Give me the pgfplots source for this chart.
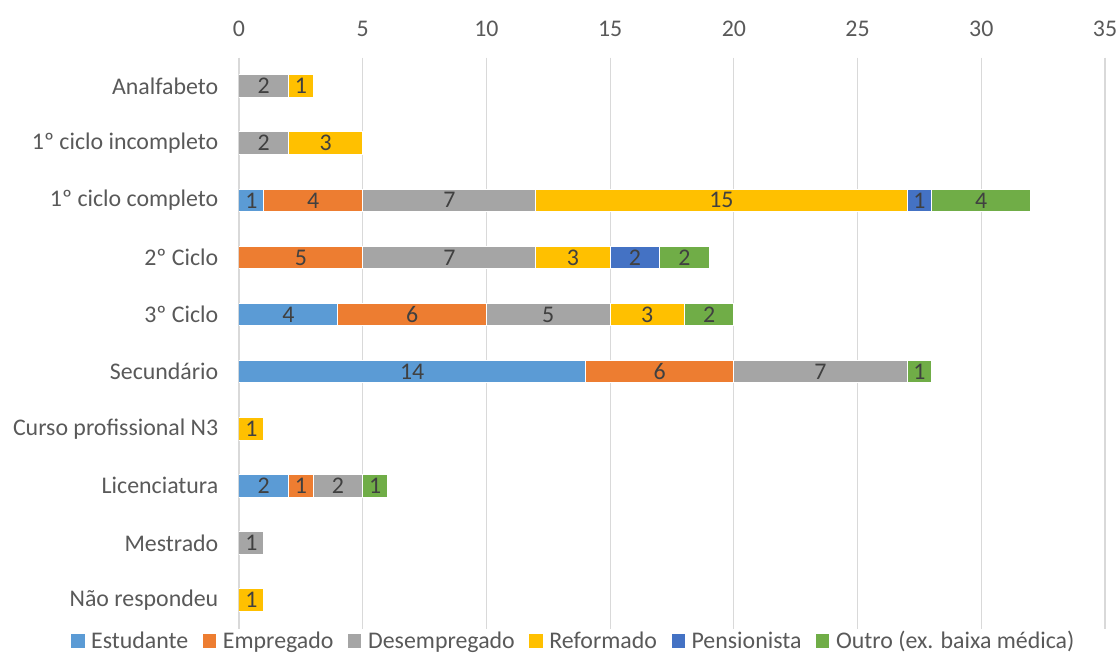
\documentclass[border=0pt]{standalone}
\usepackage{pgfplots}
\pgfplotsset{compat=1.18}
\usepackage{fontspec}
\setmainfont{Carlito}
\definecolor{cEst}{HTML}{5B9BD5}
\definecolor{cEmp}{HTML}{ED7D31}
\definecolor{cDes}{HTML}{A5A5A5}
\definecolor{cRef}{HTML}{FFC000}
\definecolor{cPen}{HTML}{4472C4}
\definecolor{cOut}{HTML}{70AD47}
\definecolor{gridc}{HTML}{D9D9D9}
\definecolor{labc}{HTML}{595959}
\definecolor{datc}{HTML}{404040}
\newcommand{\cfont}{\fontsize{17.9}{21}\selectfont}
\begin{document}
\begin{tikzpicture}[font=\cfont]
\begin{axis}[
 xbar stacked,
 scale only axis, width=649.5pt, height=428.25pt,
 at={(0,0)}, anchor=south west,
 xmin=0, xmax=35, ymin=-0.5, ymax=9.5, y dir=reverse,
 bar width=16.9pt,
 xtick={0,5,...,35}, xticklabel pos=upper,
 ytick={0,...,9},
 yticklabels={Analfabeto,1º ciclo incompleto,1º ciclo completo,2º Ciclo,3º Ciclo,Secundário,Curso profissional N3,Licenciatura,Mestrado,Não respondeu},
 major tick length=0pt,
 axis line style={draw=none},
 xmajorgrids, grid style={color=gridc, line width=0.9pt},
 tick label style={font=\cfont, text=labc},
 xticklabel style={yshift=12.5pt},
 yticklabel style={xshift=-12pt},
 /pgf/number format/assume math mode=true,
 point meta=rawx,
 nodes near coords={\pgfmathfloatifflags{\pgfplotspointmeta}{0}{}{\pgfmathprintnumber{\pgfplotspointmeta}}},
 every node near coord/.append style={anchor=center, text=datc, font=\cfont},
 legend style={at={(0.387,-0.0217)}, anchor=center, draw=none, fill=none, text=labc, font=\cfont,
   /tikz/every odd column/.append style={column sep=3pt},
   /tikz/every even column/.append style={column sep=9pt}},
 legend columns=-1,
 legend image code/.code={\fill[#1,draw=none] (0pt,-5pt) rectangle (10pt,5pt);},
]
\addplot[fill=cEst, draw=white, line width=0.75pt] coordinates {(0,0) (0,1) (1,2) (0,3) (4,4) (14,5) (0,6) (2,7) (0,8) (0,9)};
\addplot[fill=cEmp, draw=white, line width=0.75pt] coordinates {(0,0) (0,1) (4,2) (5,3) (6,4) (6,5) (0,6) (1,7) (0,8) (0,9)};
\addplot[fill=cDes, draw=white, line width=0.75pt] coordinates {(2,0) (2,1) (7,2) (7,3) (5,4) (7,5) (0,6) (2,7) (1,8) (0,9)};
\addplot[fill=cRef, draw=white, line width=0.75pt] coordinates {(1,0) (3,1) (15,2) (3,3) (3,4) (0,5) (1,6) (0,7) (0,8) (1,9)};
\addplot[fill=cPen, draw=white, line width=0.75pt] coordinates {(0,0) (0,1) (1,2) (2,3) (0,4) (0,5) (0,6) (0,7) (0,8) (0,9)};
\addplot[fill=cOut, draw=white, line width=0.75pt] coordinates {(0,0) (0,1) (4,2) (2,3) (2,4) (1,5) (0,6) (1,7) (0,8) (0,9)};
\legend{Estudante,Empregado,Desempregado,Reformado,Pensionista,Outro (ex. baixa médica)}
\end{axis}
\pgfresetboundingbox
\path[use as bounding box] (-179.25pt,-19.8pt) rectangle (658.5pt,471.45pt);
\end{tikzpicture}
\end{document}
